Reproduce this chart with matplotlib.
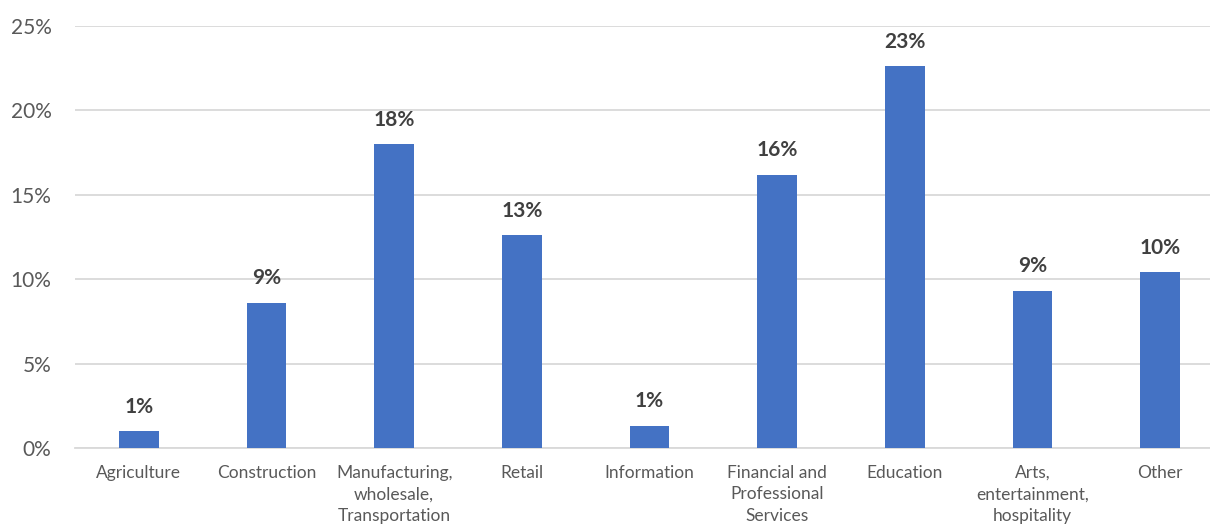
import numpy as np
import matplotlib
matplotlib.use("Agg")
import matplotlib.pyplot as plt

categories = ["Agriculture", "Construction", "Manufacturing,\nwholesale,\nTransportation",
              "Retail", "Information", "Financial and\nProfessional\nServices",
              "Education", "Arts,\nentertainment,\nhospitality", "Other"]
shares = [1.0, 8.6, 18.0, 12.6, 1.3, 16.2, 22.6, 9.3, 10.4]

plt.rcParams['font.family'] = ['Lato', 'DejaVu Sans']

fig = plt.figure(figsize=(12.1, 5.25), dpi=100)
ax = fig.add_axes([0.062, 0.1467, 0.9496, 0.8038])

x = np.arange(len(categories))
bars = ax.bar(x, shares, width=0.31, color="#4472C4", zorder=3)

for b, v in zip(bars, shares):
    ax.annotate("%.0f%%" % v, (b.get_x() + b.get_width() / 2, v),
                xytext=(0, 10.5), textcoords="offset points",
                ha="center", va="bottom", fontsize=15, fontweight="bold",
                color="#404040")

ax.set_xlim(-0.5, len(categories) - 0.5)
ax.set_ylim(0, 25)
ax.set_yticks(range(0, 26, 5))
ax.set_yticklabels(["%d%%" % t for t in range(0, 26, 5)])
ax.set_xticks(x)
ax.set_xticklabels(categories, linespacing=1.45)

ax.grid(axis="y", color="#D9D9D9", linewidth=1.3, zorder=0)
for s in ["top", "right", "left"]:
    ax.spines[s].set_visible(False)
ax.spines["bottom"].set_color("#D9D9D9")
ax.spines["bottom"].set_linewidth(1.3)
ax.tick_params(axis="y", length=0, pad=17, labelsize=15, labelcolor="#595959")
ax.tick_params(axis="x", length=0, pad=12, labelsize=12.5, labelcolor="#595959")

fig.savefig("out.png", dpi=100)
